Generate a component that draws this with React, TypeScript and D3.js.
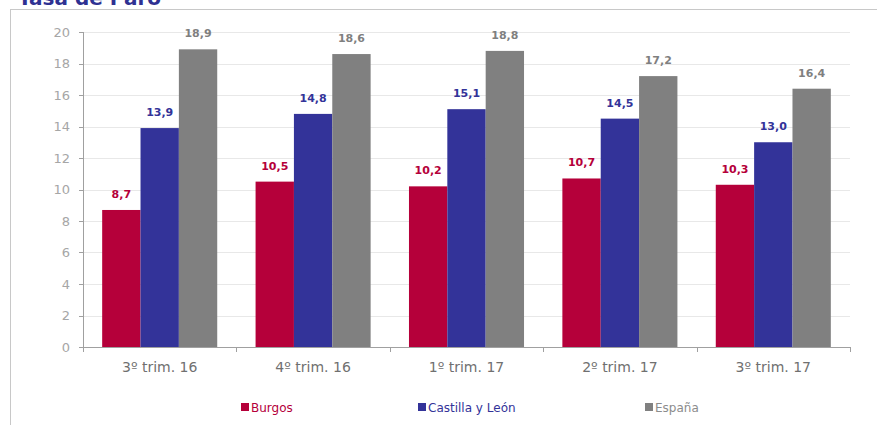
import React from "react";
import * as d3 from "d3";

const categories = ["3º trim. 16", "4º trim. 16", "1º trim. 17", "2º trim. 17", "3º trim. 17"];
const seriesNames = ["Burgos", "Castilla y León", "España"];
const burgos = [8.7, 10.5, 10.2, 10.7, 10.3];
const castilla = [13.9, 14.8, 15.1, 14.5, 13.0];
const espana = [18.9, 18.6, 18.8, 17.2, 16.4];
const yTicks = [0, 2, 4, 6, 8, 10, 12, 14, 16, 18, 20];

const colors = ["#B5003A", "#333399", "#808080"];
const labelColors = ["#B5003A", "#333399", "#7F7F7F"];

export default function App() {
  const W = 877, H = 425;
  const left = 83, right = 850, top = 32, bottom = 347;
  const series = [burgos, castilla, espana];
  const x = d3.scaleBand<string>().domain(categories).range([left, right]).paddingInner(0.25).paddingOuter(0.125);
  const x0 = d3.scaleBand<string>().domain(categories).range([left, right]);
  const xs = d3.scaleBand<number>().domain([0, 1, 2]).range([0, x.bandwidth()]);
  const y = d3.scaleLinear().domain([0, 20]).range([bottom, top]);
  const font = "'DejaVu Sans', Verdana, sans-serif";
  const legendX = [241, 418, 645];
  return (
    <svg width={W} height={H} style={{ position: "absolute", left: 0, top: 0 }}>
      <rect x={0} y={0} width={W} height={H} fill="#fff" />
      <text x={18} y={5} fontFamily={font} fontWeight="bold" fontSize={20} fill="#2E3192">Tasa de Paro</text>
      <line x1={10} y1={9.5} x2={W} y2={9.5} stroke="#C8C8C8" />
      <line x1={10.5} y1={9} x2={10.5} y2={H} stroke="#C8C8C8" />
      {yTicks.map((t) => (
        <g key={t}>
          {t > 0 && <line x1={left} x2={right} y1={Math.round(y(t)) + 0.5} y2={Math.round(y(t)) + 0.5} stroke="#E8E8E8" />}
          <line x1={left - 4} x2={left} y1={Math.round(y(t)) + 0.5} y2={Math.round(y(t)) + 0.5} stroke="#A0A0A0" />
          <text x={left - 13} y={y(t)} dy="0.35em" textAnchor="end" fontFamily={font} fontSize={13} fill="#A6A6A6">{t}</text>
        </g>
      ))}
      {categories.map((c, i) => (
        <g key={c}>
          {series.map((s, k) => {
            const bx = (x(c) as number) + (xs(k) as number);
            return (
              <g key={k}>
                <rect x={bx} y={y(s[i])} width={xs.bandwidth()} height={bottom - y(s[i])} fill={colors[k]} />
                <text x={bx + xs.bandwidth() / 2} y={y(s[i]) - 12} textAnchor="middle" fontFamily={font} fontWeight="bold" fontSize={11} fill={labelColors[k]}>
                  {s[i].toFixed(1).replace(".", ",")}
                </text>
              </g>
            );
          })}
          <text x={(x0(c) as number) + x0.bandwidth() / 2} y={372} textAnchor="middle" fontFamily={font} fontSize={14} fill="#707070">{c}</text>
        </g>
      ))}
      <line x1={left + 0.5} x2={left + 0.5} y1={top} y2={bottom} stroke="#A0A0A0" />
      <line x1={left} x2={right} y1={bottom + 0.5} y2={bottom + 0.5} stroke="#A0A0A0" />
      {[...categories.map((c) => x0(c) as number), right].map((v, i) => (
        <line key={i} x1={Math.round(v) + 0.5} x2={Math.round(v) + 0.5} y1={bottom} y2={bottom + 5} stroke="#A0A0A0" />
      ))}
      {seriesNames.map((n, k) => (
        <g key={n}>
          <rect x={legendX[k]} y={403} width={8} height={8} fill={colors[k]} />
          <text x={legendX[k] + 10} y={412} fontFamily={font} fontSize={12} fill={k === 2 ? "#8C8C8C" : colors[k]}>{n}</text>
        </g>
      ))}
    </svg>
  );
}
